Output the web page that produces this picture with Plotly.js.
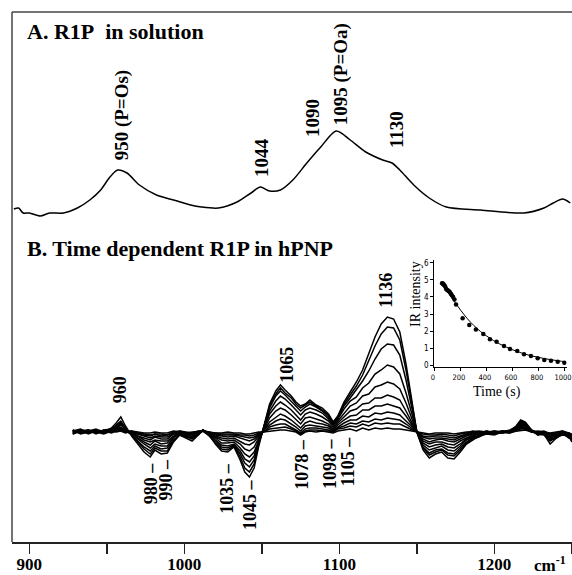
<!DOCTYPE html>
<html><head><meta charset="utf-8">
<script src="https://cdn.plot.ly/plotly-3.0.1.min.js"></script>
<style>body{margin:0;background:#fff}#chart{width:572px;height:575px}</style>
</head><body><div id="chart"></div>
<script>
// Panel A: R1P in solution (absorbance, arbitrary units)
const wnA = [890,893,896,900,907,913,922,931,939,946,952,957,963,971,982,993,1004,1011,1022,1034,1043,1049,1055,1062,1070,1079,1088,1098,1107,1117,1128,1134,1139,1148,1158,1169,1191,1219,1232,1238,1244,1249];
const absA = [11,12,7,7,4,7,7,12,20,30,43,50,47,35,25,20,15,13,12,18,27,33,29,30,40,57,73,89,80,68,60,57,50,35,22,13,10,7,12,17,21,17];

// Panel B: time-dependent difference spectra (arbitrary units)
const wnB = [928,933,938,943,948,953,956,959,962, 966,970,974,978,981,985,989,993,997, 1001,1005,1009,1012,1016,1020,1024,1028,1032, 1036,1039,1042,1045,1048,1051,1055,1059,1062,1065, 1069,1072,1075,1078,1081,1085,1089,1093,1096,1099, 1103,1107,1111,1115,1119,1123,1127,1131,1135, 1139,1143,1147,1150,1154,1158,1162,1166, 1170,1174,1178,1182,1186,1190,1195,1200,1205, 1210,1214,1217,1220,1224,1228,1232,1236,1240,1244,1248,1250];
const diffB0 = [1,3,-1,2,0,4,9,15,6, -4,-12,-20,-25,-18,-22,-21,-10,-3, -6,-9,-3,2,-3,-12,-19,-20,-15, -28,-40,-45,-36,-14,4,28,41,47,42, 36,30,26,28,32,27,24,18,10,16, 30,40,50,62,78,95,108,115,113, 100,68,30,0,-18,-26,-22,-20, -26,-27,-20,-12,-8,-4,-2,-3,0, 1,6,12,10,2,-3,-2,-12,-6,-2,-5,-8];
const diffB1 = [-2,1,2,-1,2,3,7,11,4, -3,-10,-17,-22,-16,-19,-19,-9,-2, -4,-7,-2,1,-4,-10,-17,-18,-14, -25,-36,-40,-32,-12,3,26,38,44,39, 34,28,24,27,30,26,22,17,9,15, 28,37,46,57,71,86,98,105,104, 92,62,27,0,-16,-23,-20,-18, -23,-24,-18,-11,-7,-5,-1,-2,1, 0,5,11,9,1,-2,-3,-9,-5,-3,-4,-10];
const diffB2 = [2,-1,1,3,-1,2,6,10,3, -2,-9,-15,-19,-14,-17,-16,-8,-3, -5,-6,-3,2,-2,-9,-15,-16,-13, -22,-31,-35,-28,-11,3,24,36,41,37, 31,26,21,25,28,25,21,15,8,14, 26,34,42,51,61,73,83,88,87, 77,52,23,0,-15,-21,-18,-17, -21,-22,-16,-10,-6,-3,-2,-1,0, 2,5,10,8,2,-3,-1,-8,-6,-1,-6,-7];
const diffB3 = [0,2,-2,1,1,3,5,8,2, -3,-7,-12,-16,-12,-14,-14,-6,-1, -3,-5,-1,1,-3,-8,-13,-14,-12, -19,-27,-30,-24,-9,2,21,31,36,33, 27,22,17,22,24,22,19,13,7,13, 23,31,35,44,49,58,62,67,65, 58,39,17,0,-13,-18,-16,-14, -18,-19,-14,-8,-5,-4,0,-2,1, 0,4,9,8,1,-2,-2,-7,-4,-2,-3,-9];
const diffB4 = [-1,0,2,-2,2,1,4,7,3, -1,-6,-10,-13,-9,-12,-11,-5,-2, -4,-4,-2,2,-2,-6,-11,-11,-10, -16,-22,-25,-20,-8,2,18,26,30,27, 22,17,12,18,20,18,15,11,5,11, 19,26,29,36,38,45,47,50,48, 43,29,13,0,-11,-15,-13,-12, -15,-16,-12,-7,-4,-2,-1,0,-1, 1,4,8,7,2,-1,-1,-6,-5,0,-4,-6];
const diffB5 = [2,-2,0,1,-1,2,3,5,1, -2,-4,-8,-10,-8,-9,-9,-4,0, -2,-3,0,1,-2,-5,-8,-9,-8, -12,-17,-19,-15,-6,1,14,21,24,22, 17,12,8,14,15,13,11,8,3,9, 15,21,23,28,29,34,34,37,35, 32,21,9,0,-9,-12,-10,-10, -12,-13,-9,-6,-3,-2,1,-1,0, -1,3,7,6,1,-2,-2,-5,-3,-1,-2,-8];
const diffB6 = [0,1,-1,2,1,0,3,4,1, 0,-4,-6,-8,-5,-7,-7,-2,-1, -3,-2,-1,2,-1,-4,-6,-7,-6, -9,-12,-13,-10,-4,1,10,15,18,16, 12,8,4,9,11,9,8,6,2,7, 12,16,17,22,22,26,26,28,26, 24,16,7,0,-7,-10,-8,-7, -9,-10,-7,-4,-2,-1,0,1,-1, 1,3,6,5,0,-1,0,-4,-3,0,-3,-5];
const diffB7 = [-2,2,1,-1,0,2,2,3,0, -1,-2,-4,-6,-4,-5,-5,-2,1, -1,-2,0,1,-1,-3,-4,-5,-4, -6,-8,-9,-7,-3,1,7,11,13,12, 8,5,1,6,7,6,5,4,1,5, 9,12,12,16,15,19,18,20,19, 17,11,5,0,-5,-7,-6,-6, -7,-8,-5,-3,-1,0,-1,0,1, 0,2,5,4,1,0,-1,-3,-2,-1,-1,-6];
const diffB8 = [1,-1,2,0,-2,1,1,2,1, 1,-2,-3,-4,-2,-4,-3,-1,0, -2,-1,1,1,0,-2,-3,-3,-3, -4,-5,-6,-5,-2,0,5,7,8,8, 5,2,-1,3,4,4,3,2,0,4, 6,9,8,11,10,13,12,14,13, 12,8,3,0,-4,-5,-4,-4, -5,-6,-4,-2,0,-1,1,-1,0, 1,2,4,3,0,-1,0,-2,-1,1,-2,-4];
const diffB9 = [-1,2,0,1,1,-1,1,1,0, 0,-1,-2,-3,-2,-2,-3,0,1, 0,-1,0,2,-1,-1,-2,-2,-2, -3,-3,-4,-3,-1,0,3,4,5,5, 3,1,-2,1,2,2,1,1,0,3, 4,6,5,8,6,9,8,9,8, 8,5,2,0,-2,-3,-3,-2, -3,-4,-2,-1,1,0,-1,1,0, -1,1,3,3,1,0,1,-2,-1,0,-1,-3];
const diffB10 = [1,0,-1,2,0,1,0,1,-1, 1,0,-1,-1,0,-1,-1,1,0, -1,0,1,1,0,-1,-1,0,-1, -1,-2,-2,-1,0,0,1,2,2,2, 1,0,-3,0,1,0,1,0,-1,1, 2,3,1,4,2,4,3,4,3, 3,2,1,0,-1,-2,-1,-1, -1,-2,-1,0,0,1,0,0,-1, 0,1,2,2,0,1,0,-1,0,1,-1,-2];

// Inset: IR intensity vs time
const timeS = [55,60,65,70,78,85,92,100,108,115,122,130,140,150,162,213,264,315,372,423,474,531,577,633,685,738,790,841,892,944,995];
const intensity = [4.80,4.78,4.74,4.70,4.62,4.48,4.42,4.38,4.33,4.28,4.18,4.10,4.00,3.85,3.55,2.75,2.36,2.10,1.83,1.52,1.38,1.13,0.95,0.84,0.64,0.54,0.41,0.31,0.27,0.21,0.15];
const fitTime = [50,100,150,200,250,300,350,400,450,500,550,600,650,700,750,800,850,900,950,1005];
const fitIntensity = [4.85,4.30,3.72,3.20,2.72,2.32,1.98,1.70,1.45,1.24,1.06,0.90,0.76,0.64,0.54,0.46,0.38,0.32,0.26,0.21];

const xTickVals = [900,950,1000,1050,1100,1150,1200,1250];
const xTickText = ['900','','1000','','1100','','1200',''];
const insetXTicks = [0,200,400,600,800,1000];
const insetYTicks = [0,1,2,3,4,5,6];

const labelsA = [
  {text:'950 (P=Os)', x:960, y:105},
  {text:'1044', x:1049.5, y:62},
  {text:'1090', x:1082.4, y:102},
  {text:'1095 (P=Oa)', x:1101.2, y:146},
  {text:'1130', x:1136.6, y:90}
];
const labelsB = [
  {text:'960', x:958.6, y:42},
  {text:'1065', x:1066, y:67},
  {text:'1136', x:1130, y:142},
  {text:'980 \u2013', x:978.6, y:-51},
  {text:'990 \u2013', x:988.4, y:-47},
  {text:'1035 \u2013', x:1027.3, y:-56},
  {text:'1045 \u2013', x:1042.4, y:-73},
  {text:'1078 \u2013', x:1075.7, y:-32},
  {text:'1098 \u2013', x:1094, y:-32},
  {text:'1105 \u2013', x:1105.8, y:-29}
];

const SERIF = 'Liberation Serif, Times New Roman, serif';
const NARROW = 'Liberation Sans Narrow, Arial Narrow, DejaVu Sans Condensed, sans-serif';

const traces = [];
traces.push({x: wnA, y: absA, type:'scatter', mode:'lines', line:{color:'#000', width:1.5, shape:'spline', smoothing:0.8}, xaxis:'x', yaxis:'y', hoverinfo:'skip'});
const diffB = [diffB0,diffB1,diffB2,diffB3,diffB4,diffB5,diffB6,diffB7,diffB8,diffB9,diffB10];
diffB.forEach(arr => traces.push({x: wnB, y: arr, type:'scatter', mode:'lines', line:{color:'#000', width:1.5}, xaxis:'x', yaxis:'y2', hoverinfo:'skip'}));
traces.push({x: fitTime, y: fitIntensity, type:'scatter', mode:'lines', line:{color:'#000', width:1, shape:'spline'}, xaxis:'x2', yaxis:'y3', hoverinfo:'skip'});
traces.push({x: timeS, y: intensity, type:'scatter', mode:'markers', marker:{color:'#000', size:4.5}, xaxis:'x2', yaxis:'y3', hoverinfo:'skip'});

const annotations = [];
annotations.push({xref:'paper', yref:'paper', x:0.0232, y:0.9623, xanchor:'left', yanchor:'middle', showarrow:false, text:'<b>A. R1P\u00a0\u00a0in solution</b>', font:{family:SERIF, size:22, color:'#000'}});
annotations.push({xref:'paper', yref:'paper', x:0.0232, y:0.5547, xanchor:'left', yanchor:'middle', showarrow:false, text:'<b>B. Time dependent R1P in hPNP</b>', font:{family:SERIF, size:22, color:'#000'}});
labelsA.forEach(l => annotations.push({xref:'x', yref:'y', x:l.x, y:l.y, text:'<b>'+l.text+'</b>', textangle:-90, showarrow:false, xanchor:'center', yanchor:'middle', font:{family:SERIF, size:19, color:'#000'}}));
labelsB.forEach(l => annotations.push({xref:'x', yref:'y2', x:l.x, y:l.y, text:'<b>'+l.text+'</b>', textangle:-90, showarrow:false, xanchor:'center', yanchor:'middle', font:{family:SERIF, size:18, color:'#000'}}));
annotations.push({xref:'paper', yref:'paper', x:0.7196, y:0.4679, text:'IR intensity', textangle:-90, showarrow:false, xanchor:'center', yanchor:'middle', font:{family:SERIF, size:14, color:'#000'}});
annotations.push({xref:'paper', yref:'paper', x:0.8655, y:0.2836, text:'Time (s)', showarrow:false, xanchor:'center', yanchor:'middle', font:{family:SERIF, size:14, color:'#000'}});
annotations.push({xref:'paper', yref:'paper', x:0.929, y:-0.042, text:'<b>cm<sup>-1</sup></b>', showarrow:false, xanchor:'left', yanchor:'middle', font:{family:SERIF, size:17, color:'#000'}});

const layout = {
  width:572, height:575,
  margin:{l:12, r:0, t:12, b:33, pad:0},
  paper_bgcolor:'#fff', plot_bgcolor:'rgba(0,0,0,0)',
  showlegend:false,
  xaxis:{range:[888.8,1250.1], tickvals:xTickVals, ticktext:xTickText.map(t=>t?'<b>'+t+'</b>':''), ticks:'outside', ticklen:10, tickwidth:1.5, tickcolor:'#222',
         ticklabelstandoff:-4, ticklabeloverflow:'allow',
         showline:true, linecolor:'#222', linewidth:1.5, showgrid:false, zeroline:false,
         tickfont:{family:SERIF, size:17, color:'#000'}, anchor:'y'},
  yaxis:{domain:[0,1], range:[-322,208], visible:false, fixedrange:true},
  yaxis2:{domain:[0,1], range:[-110,420], overlaying:'y', visible:false},
  xaxis2:{domain:[0.7541,0.9905], range:[-5,1013], anchor:'y3', tickvals:insetXTicks, ticks:'outside', ticklen:3, tickwidth:1, tickcolor:'#000',
          ticklabeloverflow:'allow', ticklabelshift:-2,
          showline:true, linecolor:'#000', linewidth:1, showgrid:false, zeroline:false, tickfont:{family:NARROW, size:7.5, color:'#000'}},
  yaxis3:{domain:[0.3308,0.5321], range:[-0.08,6.16], anchor:'x2', tickvals:insetYTicks, ticks:'outside', ticklen:3, tickwidth:1, tickcolor:'#000',
          showline:true, linecolor:'#000', linewidth:1, showgrid:false, zeroline:false, tickfont:{family:NARROW, size:8, color:'#000'}},
  shapes:[
    {type:'line', xref:'paper', yref:'paper', x0:0, x1:1, y0:1, y1:1, line:{color:'#444', width:1.5}},
    {type:'line', xref:'paper', yref:'paper', x0:0, x1:0, y0:0, y1:1, line:{color:'#444', width:1.5}}
  ],
  annotations:annotations
};

Plotly.newPlot('chart', traces, layout, {staticPlot:true, displayModeBar:false});
</script>
</body></html>
